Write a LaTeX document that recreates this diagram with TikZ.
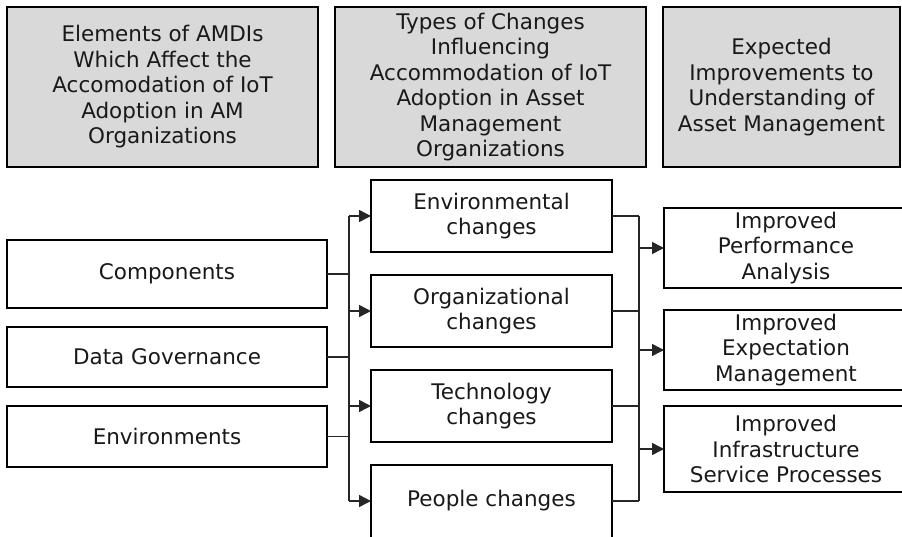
\documentclass[tikz,border=0pt]{standalone}
\usepackage{fontspec}
\setmainfont{DejaVu Sans}
\usetikzlibrary{arrows.meta}
\definecolor{hdrgrey}{HTML}{D9D9D9}
\begin{document}
\begin{tikzpicture}[x=1pt,y=-1pt,
  every node/.style={inner sep=0pt,outer sep=0pt},
  boxbase/.style={draw=black,line width=1.9pt,align=center,
    font=\fontsize{21.5}{25.5}\selectfont,text=black!90},
  hdrbox/.style={boxbase,fill=hdrgrey,minimum height=160pt},
  plainbox/.style={boxbase,fill=white},
  openbox/.style={boxbase,draw=none},
  boxline/.style={draw=black,line width=1.9pt},
  conn/.style={line width=1.5pt,draw=black!85},
  arr/.style={conn,-{Triangle[length=12pt,width=12pt]}}]
\useasboundingbox (0,0) rectangle (902,536);
% headers
\node[hdrbox,minimum width=311pt] (h1) at (162.5,87) {Elements of AMDIs\\Which Affect the\\Accomodation of IoT\\Adoption in AM\\Organizations};
\node[hdrbox,minimum width=311pt] (h2) at (490.5,87) {Types of Changes\\Influencing\\Accommodation of IoT\\Adoption in Asset\\Management\\Organizations};
\node[hdrbox,minimum width=237pt] (h3) at (781.5,87) {Expected\\Improvements to\\Understanding of\\Asset Management};
% left column
\node[plainbox,minimum width=320pt,minimum height=68pt] (l1) at (167,274) {Components};
\node[plainbox,minimum width=320pt,minimum height=60pt] (l2) at (167,357) {Data Governance};
\node[plainbox,minimum width=320pt,minimum height=61pt] (l3) at (167,436.5) {Environments};
% middle column
\node[plainbox,minimum width=241pt,minimum height=72pt] (m1) at (491.5,216) {Environmental\\changes};
\node[plainbox,minimum width=241pt,minimum height=72pt] (m2) at (491.5,311) {Organizational\\changes};
\node[plainbox,minimum width=241pt,minimum height=72pt] (m3) at (491.5,406) {Technology\\changes};
\node[openbox,minimum width=241pt,minimum height=72pt] (m4) at (491.5,501) {People changes};
\draw[boxline] ([yshift=-20pt]m4.south west) |- (m4.north east) -- ([yshift=-20pt]m4.south east);
% right column (runs past the right edge)
\node[openbox,minimum width=244pt,minimum height=80pt] (r1) at (786,248) {Improved\\Performance\\Analysis};
\node[openbox,minimum width=244pt,minimum height=80pt] (r2) at (786,350) {Improved\\Expectation\\Management};
\node[openbox,minimum width=244pt,minimum height=86pt] (r3) at (786,449) {Improved\\Infrastructure\\Service Processes};
\draw[boxline] ([xshift=30pt]r1.north east) -| (r1.south west) -- ([xshift=30pt]r1.south east);
\draw[boxline] ([xshift=30pt]r2.north east) -| (r2.south west) -- ([xshift=30pt]r2.south east);
\draw[boxline] ([xshift=30pt]r3.north east) -| (r3.south west) -- ([xshift=30pt]r3.south east);
% buses
\coordinate (lbus) at (349,0);
\coordinate (rbus) at (639,0);
\draw[conn] (l1.east) -- (l1.east -| lbus);
\draw[conn] (l2.east) -- (l2.east -| lbus);
\draw[conn] (l3.east) -- (l3.east -| lbus);
\draw[conn] (m1.west -| lbus) -- (m4.west -| lbus);
\draw[arr] (m1.west -| lbus) -- (m1.west);
\draw[arr] (m2.west -| lbus) -- (m2.west);
\draw[arr] (m3.west -| lbus) -- (m3.west);
\draw[arr] (m4.west -| lbus) -- (m4.west);
\draw[conn] (m1.east) -- (m1.east -| rbus);
\draw[conn] (m2.east) -- (m2.east -| rbus);
\draw[conn] (m3.east) -- (m3.east -| rbus);
\draw[conn] (m4.east) -- (m4.east -| rbus);
\draw[conn] (m1.east -| rbus) -- (m4.east -| rbus);
\draw[arr] (r1.west -| rbus) -- (r1.west);
\draw[arr] (r2.west -| rbus) -- (r2.west);
\draw[arr] (r3.west -| rbus) -- (r3.west);
\end{tikzpicture}
\end{document}
